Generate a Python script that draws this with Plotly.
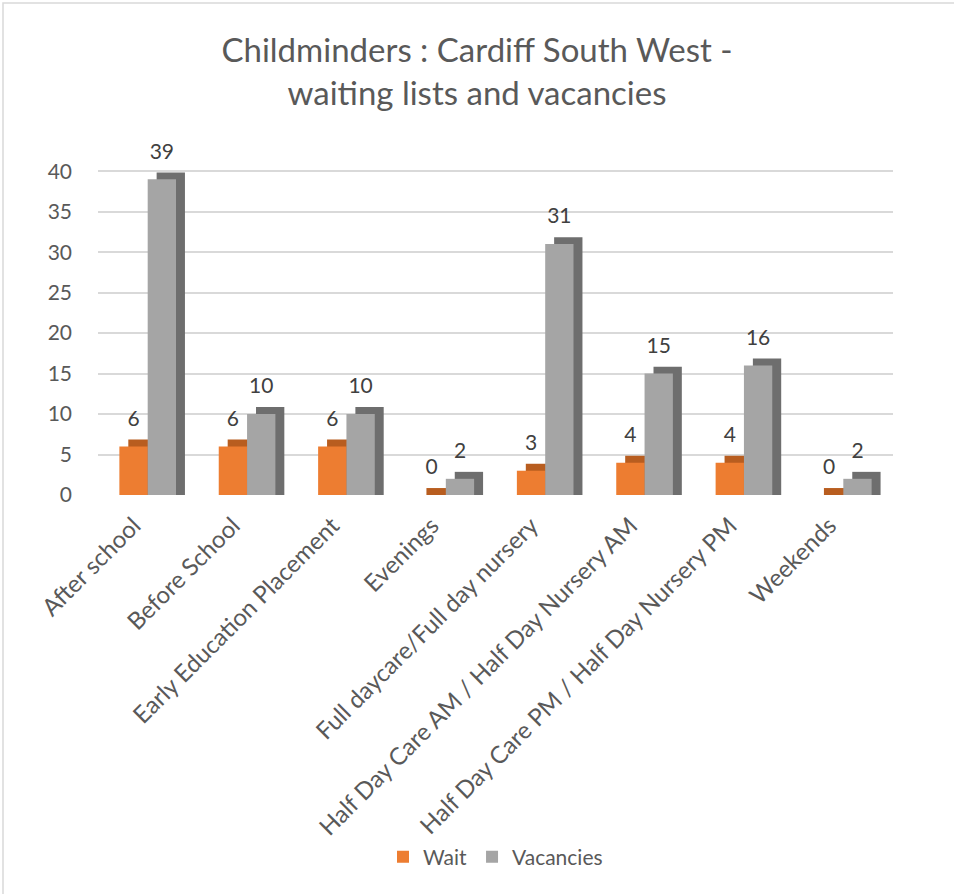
import plotly.graph_objects as go

categories = ["After school", "Before School", "Early Education Placement", "Evenings",
              "Full daycare/Full day nursery", "Half Day Care AM / Half Day Nursery AM",
              "Half Day Care PM / Half Day Nursery PM", "Weekends"]
wait = [6, 6, 6, 0, 3, 4, 4, 0]
vacancies = [39, 10, 10, 2, 31, 15, 16, 2]
y_ticks = [0, 5, 10, 15, 20, 25, 30, 35, 40]

ORANGE = "#ED7D31"
ORANGE_DARK = "#B85D1F"
GRAY = "#A5A5A5"
GRAY_DARK = "#6E6E6E"
TXT = "#595959"
FONT = "Lato"

W = 0.285   # bar width in category units
DX = 0.09   # 3D depth (x)
DY = 0.86   # 3D depth (y)
YMAX = 43   # headroom so top labels are not clipped
xi = list(range(len(categories)))

MT, MB = 147, 399
PH = 894 - MT - MB  # plot height in px

fig = go.Figure()

series = [("Wait", wait, ORANGE, ORANGE_DARK, -W),
          ("Vacancies", vacancies, GRAY, GRAY_DARK, 0.0)]

# depth (shadow) faces + front faces
for name, vals, col, dark, off in series:
    fig.add_trace(go.Bar(x=xi, y=[v + DY for v in vals], offset=off + DX, width=W,
                         marker=dict(color=dark, line=dict(width=0)),
                         showlegend=False, hoverinfo="skip"))
    fig.add_trace(go.Bar(x=xi, y=vals, offset=off, width=W, name=name,
                         marker=dict(color=col, line=dict(width=0))))

# value labels (transparent carriers)
for name, vals, col, dark, off in series:
    fig.add_trace(go.Bar(x=xi, y=[v + DY + 0.85 for v in vals], offset=off, width=W,
                         marker=dict(color="rgba(0,0,0,0)", line=dict(width=0)),
                         text=[str(v) for v in vals], textposition="outside",
                         textfont=dict(family=FONT, size=21, color="#404040"),
                         cliponaxis=False, showlegend=False, hoverinfo="skip"))

fig.update_layout(
    width=954, height=894,
    barmode="overlay",
    paper_bgcolor="white", plot_bgcolor="white",
    margin=dict(l=98, r=61, t=MT, b=MB, autoexpand=False),
    title=dict(text="Childminders : Cardiff South West -<br>waiting lists and vacancies",
               x=0.5, xanchor="center", y=1 - 62 / 894, yanchor="middle",
               font=dict(family=FONT, size=33, color=TXT)),
    font=dict(family=FONT, color=TXT),
    legend=dict(orientation="h", x=0.5, xanchor="center", y=-(857 - 495) / PH,
                yanchor="middle",
                font=dict(family=FONT, size=21, color=TXT), traceorder="normal"),
    shapes=[dict(type="rect", xref="paper", yref="paper",
                 x0=-95 / 795, x1=1.1, y0=-1.3, y1=1 + (MT - 3) / PH,
                 line=dict(color="#D9D9D9", width=1.5), layer="below")],
)

fig.update_xaxes(tickmode="array", tickvals=xi, ticktext=categories,
                 range=[-0.5, len(categories) - 0.5], tickangle=-45,
                 tickfont=dict(family=FONT, size=24, color=TXT), automargin=False,
                 ticklabelstandoff=11, ticklabelshift=-14,
                 showgrid=False, zeroline=False, showline=False, ticks="")
fig.update_yaxes(range=[0, YMAX], tickmode="array", tickvals=y_ticks,
                 tickfont=dict(family=FONT, size=21, color=TXT), automargin=False,
                 showgrid=True, gridcolor="#D9D9D9", gridwidth=2,
                 zeroline=False, showline=False, ticks="", ticklabelstandoff=25)

fig.write_html("out.html", config={"displayModeBar": False},
               post_script="document.body.style.margin='0';document.body.style.padding='0';")
